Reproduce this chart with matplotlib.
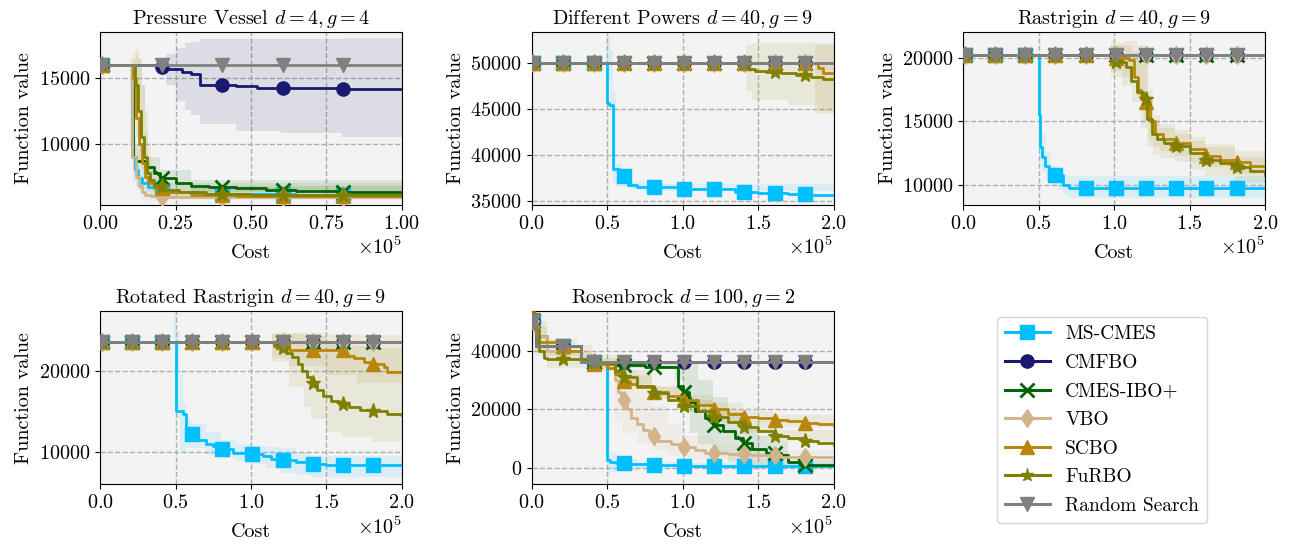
import numpy as np
import matplotlib
matplotlib.use("Agg")
import matplotlib.pyplot as plt
from matplotlib.lines import Line2D

plt.rcParams.update({
    "font.family": "serif",
    "font.serif": ["cmr10"],
    "mathtext.fontset": "cm",
    "axes.unicode_minus": False,
    "axes.formatter.use_mathtext": True,
    "font.size": 14.5,
})

METHODS = ["MS-CMES", "CMFBO", "CMES-IBO+", "VBO", "SCBO", "FuRBO", "Random Search"]
COLORS = ["#00bfff", "#191970", "#006400", "#d2b48c", "#b8860b", "#808000", "#808080"]
MARKERS = ["s", "o", "x", "d", "^", "*", "v"]

# ---- best-so-far curves, cost in thousands (step breakpoints) ----------------
# Pressure Vessel d=4, g=4
pv_lines = {
    "MS-CMES": ([0, 10.5, 11.5, 12.5, 14, 16, 19, 24, 32, 45, 65, 100],
                [16000, 9000, 8000, 7400, 7000, 6700, 6500, 6300, 6200, 6150, 6100, 6100]),
    "CMFBO": ([0, 20, 22, 27, 30, 33, 45, 52, 62, 80, 100],
              [16000, 15900, 15700, 15500, 15300, 14500, 14450, 14300, 14250, 14200, 14200]),
    "CMES-IBO+": ([0, 11, 12, 15, 18, 20, 25, 30, 36, 45, 55, 65, 80, 100],
                  [16000, 9000, 8700, 8200, 7800, 7400, 7000, 6800, 6700, 6600, 6500, 6400, 6350, 6350]),
    "VBO": ([0, 10.5, 12, 13, 14, 15, 17, 20, 30, 100],
            [16000, 9000, 7500, 6800, 6300, 6100, 6000, 5950, 5900, 5900]),
    "SCBO": ([0, 11, 12, 13, 14, 15, 16, 18, 22, 30, 45, 100],
             [16000, 15000, 12000, 10000, 8500, 7500, 7000, 6600, 6300, 6100, 6000, 6000]),
    "FuRBO": ([0, 11.5, 12.5, 13.5, 14.5, 15.5, 16.5, 18, 21, 26, 35, 50, 100],
              [16000, 14500, 12500, 10500, 9000, 7800, 7200, 6800, 6500, 6300, 6150, 6050, 6050]),
    "Random Search": ([0, 100], [16000, 16000]),
}
pv_bands = {
    "MS-CMES": ([0, 10, 11, 12, 13, 15, 20, 100],
                [16000, 10000, 7000, 6800, 6500, 6300, 6200, 5900],
                [16000, 16000, 11000, 9000, 8000, 7500, 6800, 6300]),
    "CMFBO": ([0, 19, 22, 25, 28, 30, 33, 45, 60, 80, 100],
              [16000, 16000, 14500, 13300, 12600, 12200, 11500, 11000, 10800, 10500, 10300],
              [16000, 16000, 16900, 17300, 17700, 17800, 18000, 18000, 18000, 18100, 18100]),
    "CMES-IBO+": ([0, 11, 15, 20, 30, 100],
                  [16000, 8000, 7500, 6800, 6300, 6000],
                  [16000, 10000, 9000, 8000, 7200, 6700]),
    "VBO": ([0, 10, 11, 12, 13, 14, 15, 17, 20, 100],
            [16000, 13000, 7500, 6500, 6000, 5700, 5500, 5600, 5700, 5800],
            [16000, 16000, 13000, 10000, 8000, 7000, 6600, 6300, 6100, 6000]),
    "SCBO": ([0, 10, 11, 12, 13, 14, 15, 16, 17, 20, 100],
             [16000, 15500, 14000, 10500, 8500, 7200, 6500, 6200, 6000, 5900, 5900],
             [16000, 16500, 17000, 17200, 16500, 14500, 11000, 8500, 7500, 6800, 6200]),
    "FuRBO": ([0, 11, 12, 13, 14, 15, 16, 17, 18, 20, 100],
              [16000, 15500, 13500, 11000, 9000, 7500, 6800, 6400, 6200, 6000, 5900],
              [16000, 16500, 16800, 16500, 14500, 12500, 10000, 8200, 7500, 7000, 6300]),
}

# Different Powers d=40, g=9
dp_lines = {
    "MS-CMES": ([0, 50, 51, 54, 58, 60, 64, 70, 80, 100, 115, 135, 150, 170, 185, 200],
                [50000, 45700, 45500, 38500, 38200, 37700, 36800, 36600, 36500, 36350, 36300,
                 36050, 35900, 35800, 35650, 35650]),
    "CMFBO": ([0, 200], [50000, 50000]),
    "CMES-IBO+": ([0, 200], [50000, 50000]),
    "VBO": ([0, 200], [50000, 50000]),
    "SCBO": ([0, 190, 193, 200], [50000, 49500, 49000, 49000]),
    "FuRBO": ([0, 144, 148, 155, 165, 175, 185, 193, 200],
              [50000, 49400, 49200, 49100, 48900, 48700, 48500, 48300, 48300]),
    "Random Search": ([0, 200], [50000, 50000]),
}
dp_bands = {
    "MS-CMES": ([0, 49, 50, 52, 54, 56, 60, 66, 75, 200],
                [50000, 50000, 48000, 45000, 37000, 36700, 36500, 36300, 36100, 35300],
                [50000, 53000, 53000, 51500, 47000, 39000, 38300, 37200, 36900, 35900]),
    "SCBO": ([0, 188, 200], [50000, 44500, 44500], [50000, 52000, 52000]),
    "FuRBO": ([0, 142, 146, 170, 190, 200],
              [50000, 47000, 46000, 45500, 44800, 44500],
              [50000, 52000, 52200, 52200, 52200, 52200]),
}

# Rastrigin d=40, g=9
ra_lines = {
    "MS-CMES": ([0, 50, 51, 52, 54, 57, 60, 66, 70, 200],
                [20250, 15500, 13000, 12200, 11500, 11000, 10800, 10000, 9750, 9750]),
    "CMFBO": ([0, 200], [20250, 20250]),
    "CMES-IBO+": ([0, 200], [20250, 20250]),
    "VBO": ([0, 200], [20250, 20250]),
    "SCBO": ([0, 100, 110, 113, 116, 118, 121, 124, 127, 132, 140, 150, 160, 170, 180, 190, 200],
             [20250, 20000, 19800, 18500, 17500, 16800, 16500, 15000, 14000, 13600, 13300, 12800,
              12300, 12000, 11800, 11500, 11500]),
    "FuRBO": ([0, 100, 108, 111, 115, 119, 122, 125, 128, 133, 140, 150, 160, 170, 180, 190, 200],
              [20250, 19700, 19300, 18200, 17300, 16800, 15200, 14000, 13600, 13300, 13100, 12500,
               11950, 11700, 11400, 11100, 10800]),
    "Random Search": ([0, 200], [20250, 20250]),
}
ra_bands = {
    "MS-CMES": ([0, 50, 52, 55, 58, 62, 66, 70, 200],
                [20250, 12000, 11000, 10300, 10000, 9600, 9200, 9000, 9000],
                [20250, 20250, 14000, 12500, 11500, 11200, 10800, 10700, 10600]),
    "SCBO": ([0, 98, 105, 115, 120, 123, 126, 130, 140, 150, 160, 180, 200],
             [20250, 19000, 18500, 17000, 15000, 13500, 13000, 12700, 12300, 11800, 11400, 10900, 10500],
             [20250, 21200, 21300, 21000, 19500, 17500, 15500, 14800, 14300, 13800, 13200, 12700, 12300]),
    "FuRBO": ([0, 98, 105, 112, 118, 122, 126, 130, 140, 150, 160, 180, 200],
              [20250, 18500, 17800, 16500, 14500, 13000, 12400, 12100, 11800, 11200, 10700, 10200, 9800],
              [20250, 21000, 21000, 20500, 19500, 17000, 15000, 14500, 14000, 13500, 13000, 12200, 11800]),
}

# Rotated Rastrigin d=40, g=9
rr_lines = {
    "MS-CMES": ([0, 50.5, 55, 57, 65, 70, 75, 80, 88, 98, 108, 113, 118, 130, 137, 150, 200],
                [23500, 15000, 14700, 12200, 11500, 11000, 10700, 10400, 9900, 9800, 9500, 9200,
                 9000, 8800, 8500, 8450, 8450]),
    "CMFBO": ([0, 200], [23500, 23500]),
    "CMES-IBO+": ([0, 200], [23500, 23500]),
    "VBO": ([0, 200], [23500, 23500]),
    "SCBO": ([0, 125, 163, 168, 175, 180, 188, 190, 200],
             [23500, 22500, 21800, 21500, 21000, 20800, 20400, 19800, 19800]),
    "FuRBO": ([0, 115, 119, 123, 127, 131, 134, 137, 140, 144, 148, 153, 158, 165, 172, 180, 190, 200],
              [23500, 23000, 22700, 22200, 21700, 20800, 20000, 19200, 18500, 17600, 16900, 16300,
               15900, 15500, 15200, 15000, 14700, 14600]),
    "Random Search": ([0, 200], [23500, 23500]),
}
rr_bands = {
    "MS-CMES": ([0, 49, 50.5, 53, 55, 57, 60, 70, 80, 90, 100, 110, 120, 130, 140, 200],
                [23500, 23500, 14000, 10000, 9800, 10500, 10500, 9700, 9300, 8900, 8500, 8000,
                 7500, 7200, 7000, 7000],
                [23500, 27000, 25000, 20000, 16000, 14000, 13500, 12500, 11500, 11000, 10800,
                 10600, 10500, 10000, 9500, 9500]),
    "SCBO": ([0, 114, 125, 150, 170, 200],
             [23500, 21500, 20500, 19500, 18500, 18000],
             [23500, 24600, 24600, 24500, 24400, 24300]),
    "FuRBO": ([0, 114, 125, 135, 140, 150, 160, 180, 200],
              [23500, 21000, 18000, 15500, 14000, 12500, 11800, 11200, 11000],
              [23500, 24500, 24500, 24400, 24200, 23500, 23000, 22800, 22800]),
}

# Rosenbrock d=100, g=2
rb_lines = {
    "MS-CMES": ([0, 3, 33, 50, 52, 56, 65, 80, 100, 200],
                [50000, 41500, 36000, 2500, 1800, 1500, 1200, 900, 700, 700]),
    "CMFBO": ([0, 3, 33, 200], [50000, 41500, 36000, 36000]),
    "CMES-IBO+": ([0, 3, 10, 33, 55, 75, 97, 100, 104, 108, 115, 120, 127, 135, 140, 146, 155,
                   165, 170, 178, 200],
                  [50000, 45000, 41500, 36000, 35000, 34500, 28000, 26000, 22500, 19500, 17000,
                   14500, 12500, 10000, 8500, 6500, 5000, 4500, 2000, 1000, 1000]),
    "VBO": ([0, 3, 10, 33, 55, 57, 59, 63, 66, 70, 74, 78, 84, 92, 100, 108, 115, 130, 145, 165, 200],
            [50000, 45000, 40000, 36000, 30000, 26000, 23000, 20000, 17000, 15000, 13000, 10800,
             9000, 8000, 7200, 6000, 5200, 4800, 4300, 3800, 3500]),
    "SCBO": ([0, 3, 5, 20, 25, 33, 40, 50, 55, 60, 65, 70, 80, 90, 100, 110, 120, 130, 140, 150,
              160, 170, 180, 190, 200],
             [50000, 45000, 43000, 41500, 40000, 37000, 35500, 34000, 32000, 29500, 28500, 27500,
              26000, 24500, 23000, 21500, 20000, 18500, 17500, 17000, 16200, 15800, 15300, 14800, 14200]),
    "FuRBO": ([0, 2, 5, 8, 10, 30, 35, 40, 50, 55, 60, 70, 80, 90, 100, 110, 120, 130, 140, 150,
               160, 170, 180, 190, 200],
              [52000, 47000, 40000, 37500, 37000, 37000, 36500, 36000, 35500, 33000, 31000, 28000,
               25500, 23000, 21000, 19500, 17500, 15500, 14000, 12500, 11000, 10000, 9000, 8500, 7800]),
    "Random Search": ([0, 3, 33, 200], [50000, 41500, 36000, 36000]),
}
rb_bands = {
    "MS-CMES": ([0, 49, 50, 52, 56, 70, 100, 200],
                [36000, 36000, -3000, -1500, -1000, -500, -200, 0],
                [36000, 36000, 36000, 5000, 3000, 2000, 1500, 1400]),
    "CMES-IBO+": ([0, 55, 95, 100, 105, 110, 120, 130, 140, 150, 160, 170, 200],
                  [36000, 34000, 30000, 20000, 12000, 8000, 5000, 2000, 1000, 0, -500, 0, 0],
                  [36000, 36000, 36000, 36500, 36000, 30000, 24000, 19000, 14000, 11000, 9000, 2500, 2000]),
    "VBO": ([0, 55, 60, 70, 80, 90, 100, 120, 140, 200],
            [36000, 16000, 12000, 8000, 6000, 4000, 3000, 2500, 2000, 2000],
            [36000, 35500, 33000, 29000, 21000, 15000, 11000, 8000, 6000, 5000]),
    "SCBO": ([0, 2, 10, 30, 40, 60, 80, 100, 120, 140, 160, 200],
             [46000, 40000, 38000, 36000, 34000, 27500, 24000, 21000, 18000, 15500, 14000, 12500],
             [53000, 48000, 44000, 42000, 37500, 31500, 28000, 25000, 22000, 19500, 18000, 16000]),
    "FuRBO": ([0, 2, 10, 30, 40, 60, 80, 100, 120, 140, 160, 200],
              [44000, 38000, 34000, 34000, 33000, 28500, 23500, 19000, 15500, 12000, 9000, 6000],
              [53000, 50000, 40000, 40000, 38500, 33500, 27500, 23000, 19500, 16000, 13000, 10000]),
}

PANELS = [
    (r"Pressure Vessel $d=4, g=4$", pv_lines, pv_bands, 100, (5330, 18540),
     [10000, 15000], [0, 25, 50, 75, 100], 0.5),
    (r"Different Powers $d=40, g=9$", dp_lines, dp_bands, 200, (34600, 53400),
     [35000, 40000, 45000, 50000], [0, 50, 100, 150, 200], 1),
    (r"Rastrigin $d=40, g=9$", ra_lines, ra_bands, 200, (8440, 22030),
     [10000, 15000, 20000], [0, 50, 100, 150, 200], 1),
    (r"Rotated Rastrigin $d=40, g=9$", rr_lines, rr_bands, 200, (6075, 27250),
     [10000, 20000], [0, 50, 100, 150, 200], 1),
    (r"Rosenbrock $d=100, g=2$", rb_lines, rb_bands, 200, (-5600, 53400),
     [0, 20000, 40000], [0, 50, 100, 150, 200], 1),
]

MARKER_GAP = 20   # one marker every 20k cost
MS = 9.5


def step_at(x, y, at):
    idx = np.searchsorted(x, at, side="right") - 1
    return np.asarray(y)[np.clip(idx, 0, len(y) - 1)]


def draw_panel(ax, title, lines, bands, xmax, ylim, yticks, xticks, mstart):
    ax.set_facecolor("#f3f3f3")
    for name, color in zip(METHODS, COLORS):
        if name in bands:
            bx, lo, hi = bands[name]
            ax.fill_between(np.array(bx) * 1e3, lo, hi, step="post",
                            color=color, alpha=0.1, lw=0, zorder=1)
    marks = np.arange(mstart, xmax, MARKER_GAP) * 1e3
    for i, (name, color, mk) in enumerate(zip(METHODS, COLORS, MARKERS)):
        x, y = lines[name]
        x = np.array(x) * 1e3
        z = 3 + i * 0.1
        ax.plot(x, y, drawstyle="steps-post", color=color, lw=2, zorder=z)
        ms = MS + 1.5 if mk == "*" else MS
        ax.plot(marks, step_at(x, y, marks), ls="none", marker=mk, color=color,
                ms=ms, mew=2 if mk == "x" else 1, zorder=z)
    ax.set_xlim(0, xmax * 1e3)
    ax.set_ylim(*ylim)
    ax.set_xticks(np.array(xticks) * 1e3)
    ax.set_yticks(yticks)
    ax.ticklabel_format(axis="x", style="sci", scilimits=(0, 0), useMathText=True)
    ax.yaxis.get_major_formatter().set_useOffset(False)
    ax.grid(True, ls="--", color="#b0b0b0", lw=1)
    ax.set_axisbelow(True)
    ax.set_title(title, fontsize=14.5)
    ax.set_xlabel("Cost", labelpad=8)
    ax.set_ylabel("Function value")


fig, axes = plt.subplots(2, 3, figsize=(12.91, 5.44), dpi=100)
fig.subplots_adjust(left=0.0775, right=0.980, top=0.941, bottom=0.110,
                    wspace=0.43, hspace=0.616)

for ax, panel in zip(axes.flat, PANELS):
    draw_panel(ax, *panel)
axes.flat[5].axis("off")

handles = [
    Line2D([], [], color=c, marker=m, lw=2.2, ms=MS, mew=2 if m == "x" else 1, label=n)
    for n, c, m in zip(METHODS, COLORS, MARKERS)
]
fig.legend(handles=handles, loc="center", bbox_to_anchor=(0.8536, 0.228),
           fontsize=14, handlelength=2.3, labelspacing=0.55)

fig.savefig("out.png", dpi=100)
